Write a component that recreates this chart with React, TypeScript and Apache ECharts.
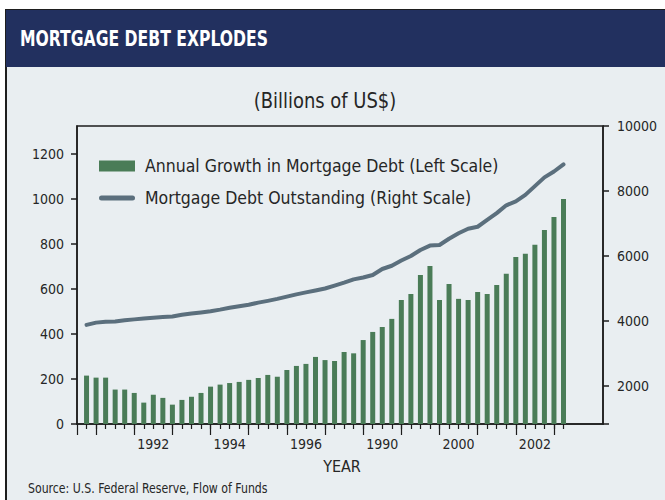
import React, { useEffect, useRef } from "react";
import * as echarts from "echarts";

// Quarterly values, one per bar (billions of US$)
const barValues = [
  215, 206, 206, 153, 153, 138, 95, 130, 116, 86,
  107, 121, 138, 166, 175, 182, 187, 196, 204, 218,
  210, 240, 258, 267, 298, 284, 280, 320, 314, 373,
  409, 431, 467, 551, 578, 662, 702, 551, 622, 556,
  551, 587, 578, 618, 667, 742, 756, 796, 862, 920,
  1000,
];
const debtValues = [
  3880, 3950, 3980, 3985, 4020, 4050, 4080, 4100, 4120, 4140,
  4190, 4230, 4265, 4300, 4350, 4410, 4455, 4500, 4565, 4620,
  4680, 4750, 4820, 4880, 4940, 5000, 5090, 5180, 5280, 5340,
  5415, 5600, 5700, 5860, 6000, 6185, 6320, 6340, 6530, 6700,
  6840, 6900, 7108, 7320, 7560, 7680, 7880, 8150, 8420, 8600,
  8820,
];
const xTickLabels = ["1992", "1994", "1996", "1990", "2000", "2002"];
const leftTicks = [0, 200, 400, 600, 800, 1000, 1200];
const rightTicks = [2000, 4000, 6000, 8000, 10000];
const barName = "Annual Growth in Mortgage Debt (Left Scale)";
const lineName = "Mortgage Debt Outstanding (Right Scale)";

const FF = "'DejaVu Sans Condensed', 'Liberation Sans Narrow', sans-serif";
const TXT = "#262626";
const AX = "#1c1c1c";
const LINE_ICON = "path://M2.5,0 L33.5,0 A2.5,2.5 0 0 1 33.5,5 L2.5,5 A2.5,2.5 0 0 1 2.5,0 Z";

export default function App() {
  const ref = useRef<HTMLDivElement>(null);
  useEffect(() => {
    const chart = echarts.init(ref.current!, null, { renderer: "svg" });
    const idx = barValues.map((_, i) => i);
    const majorTicks = [-1, ...idx.filter((i) => i % 4 === 1)];
    const labelPos = xTickLabels.map((_, i) => 7 + 8 * i);
    const xMin = -1;
    const xMax = 54.14;
    const plain = (v: number) => String(Math.round(v));
    const option: any = {
      animation: false,
      backgroundColor: "#ffffff",
      textStyle: { fontFamily: FF },
      grid: {
        left: 77,
        right: 62,
        top: 126,
        bottom: 76,
        show: true,
        borderColor: AX,
        borderWidth: 1.5,
        backgroundColor: "transparent",
        outerBoundsMode: "none",
      },
      graphic: [
        { type: "rect", z: -20, shape: { x: 0, y: 0, width: 665, height: 500 }, style: { fill: "#ffffff" } },
        { type: "rect", z: -19, shape: { x: 6, y: 10, width: 670, height: 500 }, style: { fill: "#e9eef1", stroke: "#1e1e1e", lineWidth: 2 } },
        { type: "rect", z: -18, shape: { x: 6, y: 10, width: 670, height: 57 }, style: { fill: "#22305f" } },
        {
          type: "text", z: 10, x: 20, y: 39, scaleX: 0.79,
          style: { text: "MORTGAGE DEBT EXPLODES", fill: "#ffffff", font: `bold 22px ${FF}`, textVerticalAlign: "middle" },
        },
        {
          type: "text", z: 10, x: 325, y: 101, scaleX: 0.95,
          style: { text: "(Billions of US$)", fill: TXT, font: `21px ${FF}`, textAlign: "center", textVerticalAlign: "middle" },
        },
        {
          type: "text", z: 10, x: 342, y: 466,
          style: { text: "YEAR", fill: TXT, font: `16px ${FF}`, textAlign: "center", textVerticalAlign: "middle" },
        },
        {
          type: "text", z: 10, x: 28, y: 488, scaleX: 0.87,
          style: { text: "Source: U.S. Federal Reserve, Flow of Funds", fill: TXT, font: `14px ${FF}`, textVerticalAlign: "middle" },
        },
      ],
      legend: {
        orient: "vertical",
        left: 99,
        top: 157,
        padding: 0,
        itemWidth: 36,
        itemHeight: 11,
        itemGap: 14,
        symbolKeepAspect: true,
        textStyle: { fontFamily: FF, fontSize: 17.5, color: TXT, padding: [0, 0, 0, 5] },
        data: [
          { name: barName, icon: "rect" },
          { name: lineName, icon: LINE_ICON },
        ],
      },
      xAxis: [
        {
          type: "value",
          min: xMin,
          max: xMax,
          position: "bottom",
          splitLine: { show: false },
          axisLine: { show: true, onZero: false, lineStyle: { color: AX, width: 1.5 } },
          axisTick: { show: true, customValues: idx, length: 5, lineStyle: { color: AX, width: 1.2 } },
          axisLabel: {
            show: true,
            customValues: labelPos,
            margin: 13,
            fontFamily: FF,
            fontSize: 14,
            color: TXT,
            formatter: (v: number) => {
              const i = labelPos.indexOf(Math.round(v));
              return i >= 0 ? xTickLabels[i] : "";
            },
          },
        },
        {
          type: "value",
          min: xMin,
          max: xMax,
          position: "bottom",
          splitLine: { show: false },
          axisLine: { show: false, onZero: false },
          axisTick: { show: true, customValues: majorTicks, length: 11, lineStyle: { color: AX, width: 1.2 } },
          axisLabel: { show: false },
        },
      ],
      yAxis: [
        {
          type: "value",
          min: 0,
          max: 1324,
          position: "left",
          splitLine: { show: false },
          axisLine: { show: true, onZero: false, lineStyle: { color: AX, width: 1.5 } },
          axisTick: { show: true, customValues: leftTicks, length: 6, lineStyle: { color: AX, width: 1.5 } },
          axisLabel: { customValues: leftTicks, margin: 13, fontFamily: FF, fontSize: 14, color: TXT, formatter: plain },
        },
        {
          type: "value",
          min: 831,
          max: 10000,
          position: "right",
          splitLine: { show: false },
          axisLine: { show: true, onZero: false, lineStyle: { color: AX, width: 1.5 } },
          axisTick: { show: true, customValues: [831, ...rightTicks], length: 6, lineStyle: { color: AX, width: 1.5 } },
          axisLabel: { customValues: rightTicks, margin: 14, fontFamily: FF, fontSize: 14, color: TXT, formatter: plain },
        },
      ],
      series: [
        {
          name: barName,
          type: "bar",
          xAxisIndex: 0,
          yAxisIndex: 0,
          barWidth: 5,
          itemStyle: { color: "#4a7c57" },
          data: barValues.map((v, i) => [i, v]),
        },
        {
          name: lineName,
          type: "line",
          xAxisIndex: 0,
          yAxisIndex: 1,
          symbol: "none",
          lineStyle: { color: "#5b6f7d", width: 4, cap: "round", join: "round" },
          itemStyle: { color: "#5b6f7d" },
          data: debtValues.map((v, i) => [i, v]),
        },
      ],
    };
    chart.setOption(option);
    return () => chart.dispose();
  }, []);
  return <div ref={ref} style={{ position: "fixed", left: 0, top: 0, width: 665, height: 500 }} />;
}
